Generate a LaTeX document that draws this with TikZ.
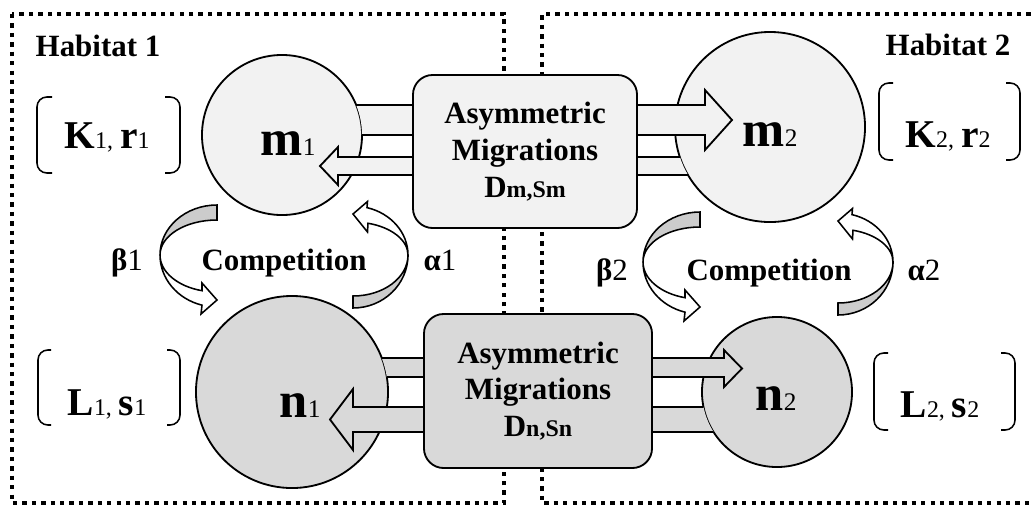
\documentclass[tikz,border=0pt]{standalone}
\usepackage{fontspec}
\setmainfont{Liberation Serif}
\newcommand{\myfs}[1]{\fontsize{#1pt}{#1pt}\selectfont}
\begin{document}
\begin{tikzpicture}[x=0.025cm,y=0.025cm,line join=miter]
\definecolor{lite}{HTML}{F2F2F2}
\definecolor{mid}{HTML}{D9D9D9}
\definecolor{rib}{HTML}{CCCCCC}
\tikzset{
 hab/.style={draw=black,line width=2.8pt,dash pattern=on 3.1pt off 3.6pt},
 pop/.style={circle,draw=black,line width=1.3pt,inner sep=0pt},
 migbox/.style={draw=black,line width=1.3pt,rounded corners=14pt,inner sep=0pt,align=center,
   font={\fontsize{22pt}{26.2pt}\selectfont\bfseries}},
 lab/.style={anchor=base,inner sep=0pt},
 blk/.style={draw=black,line width=1.3pt},
 ribbon/.style={draw=black,line width=1.1pt},
 brk/.style={draw=black,line width=1.1pt,rounded corners=7pt},
}
\useasboundingbox (0,0) rectangle (1032,-509);
% habitats
\draw[hab] (12,-14) rectangle (504,-503);
\draw[hab] (1040,-14) -- (542,-14) -- (542,-503) -- (1040,-503);
% populations
\node[pop,fill=lite,minimum size=4cm] (m1) at (282,-135) {};
\node[pop,fill=lite,minimum size=4.75cm] (m2) at (770,-127) {};
\node[pop,fill=mid,minimum size=4.8cm] (n1) at (292,-392) {};
\node[pop,fill=mid,minimum size=3.75cm] (n2) at (777,-392) {};
% migration arrows, m row
\fill[lite] (356.17,-105) -- (705,-105) -- (705,-90) -- (732,-120) -- (705,-150) -- (705,-135) -- (362,-135) arc[start angle=0,end angle=22.02,radius=80] -- cycle;
\draw[blk] (356.17,-105) -- (705,-105) -- (705,-90) -- (732,-120) -- (705,-150) -- (705,-135) -- (362,-135);
\fill[lite] (679.86,-157) -- (338,-157) -- (338,-147) -- (320,-166) -- (338,-185) -- (338,-175) -- (688.02,-175) arc[start angle=210.34,end angle=198.41,radius=95] -- cycle;
\draw[blk] (679.86,-157) -- (338,-157) -- (338,-147) -- (320,-166) -- (338,-185) -- (338,-175) -- (688.02,-175);
% migration arrows, n row
\fill[mid] (381.78,-358) -- (724,-358) -- (724,-350) -- (742,-368.5) -- (724,-387) -- (724,-377) -- (386.82,-377) arc[start angle=8.99,end angle=20.74,radius=96] -- cycle;
\draw[blk] (381.78,-358) -- (724,-358) -- (724,-350) -- (742,-368.5) -- (724,-387) -- (724,-377) -- (386.82,-377);
\fill[mid] (703.52,-407) -- (353,-407) -- (353,-389) -- (330,-419.5) -- (353,-450) -- (353,-432) -- (713.56,-432) arc[start angle=212.23,end angle=191.54,radius=75] -- cycle;
\draw[blk] (703.52,-407) -- (353,-407) -- (353,-389) -- (330,-419.5) -- (353,-450) -- (353,-432) -- (713.56,-432);
% migration boxes
\node[migbox,fill=lite,minimum width=5.6cm,minimum height=3.825cm] (Dm) at (525,-151.5)
  {Asymmetric\\Migrations\\D{\myfs{17}m,Sm}};
\node[migbox,fill=mid,minimum width=5.7cm,minimum height=3.85cm] (Dn) at (538,-391)
  {Asymmetric\\Migrations\\D{\myfs{17}n,Sn}};
% competition ribbons
\foreach \dx/\dy in {0/0,483/-7} {
\begin{scope}[shift={(\dx,\dy)}]
\filldraw[ribbon,fill=rib] (217,-205) arc[start angle=90,end angle=180,x radius=57,y radius=50]
  arc[start angle=180,end angle=90,x radius=57,y radius=35] -- cycle;
\filldraw[ribbon,fill=white] (160,-255) arc[start angle=180,end angle=254.74,x radius=57,y radius=52]
  -- (201,-314) -- (217,-300) -- (202,-283) -- (202,-290.7)
  arc[start angle=254.74,end angle=180,x radius=57,y radius=37] -- cycle;
\end{scope}}
\foreach \dx/\dy in {0/0,485/-7} {
\begin{scope}[shift={(\dx,\dy)}]
\filldraw[ribbon,fill=rib] (353,-308) arc[start angle=270,end angle=360,x radius=55,y radius=53]
  arc[start angle=0,end angle=-90,x radius=55,y radius=41] -- cycle;
\filldraw[ribbon,fill=white] (408,-255) arc[start angle=0,end angle=75.26,x radius=55,y radius=49]
  -- (367.5,-201.5) -- (353,-214) -- (367.5,-232) -- (368,-223.25)
  arc[start angle=74.17,end angle=0,x radius=55,y radius=33] -- cycle;
\end{scope}}
% brackets
\draw[brk] (52,-97) -- (37,-97) -- (37,-173) -- (52,-173);
\draw[brk] (165,-97) -- (180,-97) -- (180,-173) -- (165,-173);
\draw[brk] (51,-350) -- (38,-350) -- (38,-425) -- (51,-425);
\draw[brk] (167,-350) -- (180,-350) -- (180,-425) -- (167,-425);
\draw[brk] (893,-83) -- (879,-83) -- (879,-160) -- (893,-160);
\draw[brk] (1006,-83) -- (1020,-83) -- (1020,-160) -- (1006,-160);
\draw[brk] (888,-353) -- (874,-353) -- (874,-430) -- (888,-430);
\draw[brk] (1001,-353) -- (1015,-353) -- (1015,-430) -- (1001,-430);
% labels
\node[lab,font=\myfs{22}\bfseries] (h1) at (98,-56) {Habitat 1};
\node[lab,font=\myfs{22}\bfseries] (h2) at (948,-55) {Habitat 2};
\node[lab] (k1) at (107,-148) {{\myfs{28}\bfseries K}{\myfs{17}1,}\hspace{5pt}{\myfs{28}\bfseries r}{\myfs{17}1}};
\node[lab] (k2) at (948,-147) {{\myfs{28}\bfseries K}{\myfs{17}2,}\hspace{5pt}{\myfs{28}\bfseries r}{\myfs{17}2}};
\node[lab] (l1) at (107,-415) {{\myfs{28}\bfseries L}{\myfs{17}1,}\hspace{5pt}{\myfs{28}\bfseries s}{\myfs{17}1}};
\node[lab] (l2) at (940,-417) {{\myfs{28}\bfseries L}{\myfs{17}2,}\hspace{5pt}{\myfs{28}\bfseries s}{\myfs{17}2}};
\node[lab] (m1t) at (288,-155) {{\myfs{36}\bfseries m}{\myfs{18}1}};
\node[lab] (m2t) at (770,-146) {{\myfs{36}\bfseries m}{\myfs{18}2}};
\node[lab] (n1t) at (300,-417) {{\myfs{36}\bfseries n}{\myfs{18}1}};
\node[lab] (n2t) at (776,-410) {{\myfs{36}\bfseries n}{\myfs{18}2}};
\node[lab,font=\myfs{22}] (b1) at (127,-270) {\textbf{β}1};
\node[lab,font=\myfs{22}\bfseries] (c1) at (284,-270) {Competition};
\node[lab,font=\myfs{22}] (a1) at (440,-270) {\textbf{α}1};
\node[lab,font=\myfs{22}] (b2) at (612,-280) {\textbf{β}2};
\node[lab,font=\myfs{22}\bfseries] (c2) at (769,-280) {Competition};
\node[lab,font=\myfs{22}] (a2) at (924,-280) {\textbf{α}2};
\end{tikzpicture}
\end{document}
